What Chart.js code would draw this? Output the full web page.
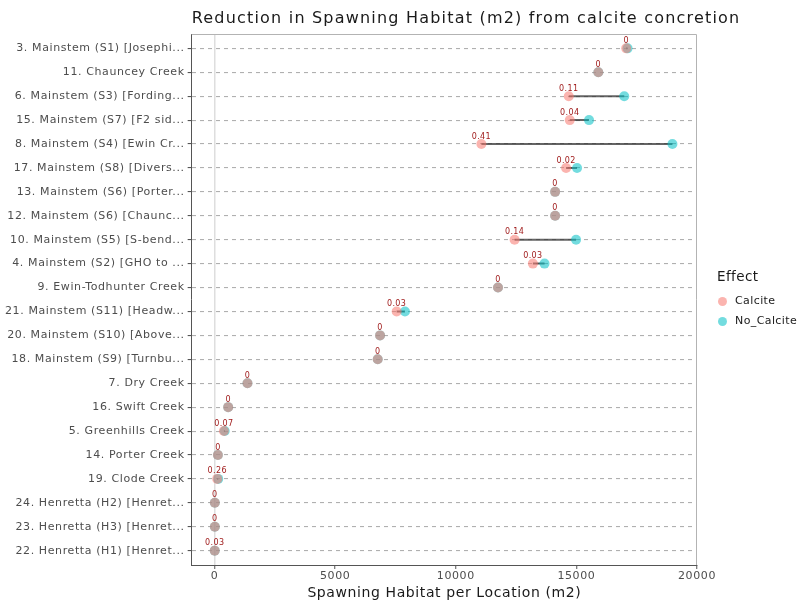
<!DOCTYPE html>
<html>
<head>
<meta charset="utf-8">
<script src="https://cdn.jsdelivr.net/npm/chart.js@4.4.0/dist/chart.umd.min.js"></script>
<style>
  html, body { margin: 0; padding: 0; background: #fff; }
</style>
</head>
<body>
<canvas id="dumbbellChart" width="805" height="602"></canvas>
<script>
// Sites, top to bottom
var sites = ["3. Mainstem (S1) [Josephi...", "11. Chauncey Creek", "6. Mainstem (S3) [Fording...",
  "15. Mainstem (S7) [F2 sid...", "8. Mainstem (S4) [Ewin Cr...", "17. Mainstem (S8) [Divers...",
  "13. Mainstem (S6) [Porter...", "12. Mainstem (S6) [Chaunc...", "10. Mainstem (S5) [S-bend...",
  "4. Mainstem (S2) [GHO to ...", "9. Ewin-Todhunter Creek", "21. Mainstem (S11) [Headw...",
  "20. Mainstem (S10) [Above...", "18. Mainstem (S9) [Turnbu...", "7. Dry Creek", "16. Swift Creek",
  "5. Greenhills Creek", "14. Porter Creek", "19. Clode Creek", "24. Henretta (H2) [Henret...",
  "23. Henretta (H3) [Henret...", "22. Henretta (H1) [Henret..."];

// Spawning habitat (m2) with and without calcite
var calcite = [17066, 15909, 14683, 14725, 11061, 14573, 14118, 14118, 12438, 13196, 11750,
  7548, 6860, 6763, 1364, 564, 386, 138, 110, 10, 10, 5];
var noCalcite = [17120, 15909, 16983, 15524, 18981, 15027, 14118, 14118, 14986, 13678, 11750,
  7893, 6860, 6763, 1364, 564, 420, 138, 150, 10, 10, 5];

// Reduction labels
var reduction = ["0", "0", "0.11", "0.04", "0.41", "0.02", "0", "0", "0.14", "0.03", "0",
  "0.03", "0", "0", "0", "0", "0.07", "0", "0.26", "0", "0", "0.03"];

var xTicks = [0, 5000, 10000, 15000, 20000];

Chart.defaults.font.family = "'DejaVu Sans', sans-serif";
Chart.defaults.color = "#4d4d4d";

var calcitePoints = calcite.map(function (v, i) { return { x: v, y: i }; });
var noCalcitePoints = noCalcite.map(function (v, i) { return { x: v, y: i }; });

// segments between the two points, broken by gaps
var segments = [];
for (var i = 0; i < sites.length; i++) {
  if (calcite[i] !== noCalcite[i]) {
    segments.push({ x: calcite[i], y: i }, { x: noCalcite[i], y: i }, { x: null, y: null });
  }
}

// ggplot text renders a bit wider than canvas text
var spacingPlugin = {
  id: "spacing",
  beforeUpdate: function (chart) { chart.ctx.letterSpacing = "0.6px"; },
  beforeDraw: function (chart) { chart.ctx.letterSpacing = "0.6px"; }
};

var labelPlugin = {
  id: "reductionLabels",
  afterDatasetsDraw: function (chart) {
    var ctx = chart.ctx;
    var meta = chart.getDatasetMeta(0);
    ctx.save();
    ctx.letterSpacing = "0.4px";
    ctx.font = "8px 'DejaVu Sans'";
    ctx.fillStyle = "#a01c1c";
    ctx.textAlign = "center";
    ctx.textBaseline = "bottom";
    meta.data.forEach(function (pt, i) {
      ctx.fillText(reduction[i], pt.x, pt.y - 3.5);
    });
    ctx.restore();
  }
};

var framePlugin = {
  id: "frame",
  afterDraw: function (chart) {
    var ctx = chart.ctx, a = chart.chartArea;
    ctx.save();
    ctx.strokeStyle = "#b3b3b3";
    ctx.lineWidth = 1;
    ctx.beginPath();
    ctx.moveTo(a.left, a.top + 0.5);
    ctx.lineTo(a.right - 0.5, a.top + 0.5);
    ctx.lineTo(a.right - 0.5, a.bottom);
    ctx.stroke();

    // title, aligned to the panel like ggplot
    ctx.letterSpacing = "1.2px";
    ctx.font = "16px 'DejaVu Sans'";
    ctx.fillStyle = "#1a1a1a";
    ctx.textAlign = "left";
    ctx.textBaseline = "middle";
    ctx.fillText("Reduction in Spawning Habitat (m2) from calcite concretion", a.left, 19);

    // legend
    var lx = a.right + 20, ly = (a.top + a.bottom) / 2 + 2;
    ctx.letterSpacing = "0.4px";
    ctx.font = "13.5px 'DejaVu Sans'";
    ctx.fillText("Effect", lx, ly - 24);
    ctx.font = "11px 'DejaVu Sans'";
    [0, 1].forEach(function (d, k) {
      var yy = ly + k * 20;
      ctx.fillStyle = chart.data.datasets[d].backgroundColor;
      ctx.beginPath();
      ctx.arc(lx + 5.5, yy, 4.5, 0, Math.PI * 2);
      ctx.fill();
      ctx.fillStyle = "#1a1a1a";
      ctx.fillText(chart.data.datasets[d].label, lx + 18, yy);
    });
    ctx.restore();
  }
};

var ctx = document.getElementById("dumbbellChart").getContext("2d");
var chart = new Chart(ctx, {
  type: "scatter",
  data: {
    datasets: [{
      label: "Calcite",
      data: calcitePoints,
      backgroundColor: "rgba(248,118,109,0.55)",
      borderWidth: 0,
      pointRadius: 5
    }, {
      label: "No_Calcite",
      data: noCalcitePoints,
      backgroundColor: "rgba(0,191,196,0.55)",
      borderWidth: 0,
      pointRadius: 5
    }, {
      label: "segment",
      data: segments,
      showLine: true,
      spanGaps: false,
      borderColor: "rgba(50,50,50,0.75)",
      borderWidth: 2,
      pointRadius: 0
    }]
  },
  options: {
    responsive: false,
    animation: false,
    events: [],
    layout: { padding: { top: 34, right: 108, bottom: 2, left: 2 } },
    plugins: {
      tooltip: { enabled: false },
      legend: { display: false }
    },
    scales: {
      x: {
        type: "linear",
        min: -950,
        max: 20000,
        afterBuildTicks: function (scale) {
          scale.ticks = xTicks.map(function (v) { return { value: v }; });
        },
        ticks: {
          font: { size: 11, lineHeight: 1 },
          color: "#4d4d4d",
          padding: 2,
          maxRotation: 0,
          callback: function (v) { return String(v); }
        },
        grid: {
          color: function (c) { return c.tick && c.tick.value === 0 ? "#dedede" : "rgba(0,0,0,0)"; },
          lineWidth: 1.5,
          tickColor: "#555",
          tickLength: 4,
          tickWidth: 1
        },
        border: { color: "#555", width: 1 },
        title: {
          display: true,
          text: "Spawning Habitat per Location (m2)",
          color: "#1a1a1a",
          font: { size: 14, lineHeight: 1 },
          padding: { top: 2, bottom: 0 }
        }
      },
      y: {
        type: "linear",
        reverse: true,
        min: -0.6,
        max: 21.6,
        afterBuildTicks: function (scale) {
          scale.ticks = sites.map(function (s, i) { return { value: i }; });
        },
        ticks: {
          autoSkip: false,
          font: { size: 11 },
          color: "#4d4d4d",
          padding: 3,
          callback: function (v) { return sites[v]; }
        },
        grid: {
          color: "#b0b0b0",
          lineWidth: 1.1,
          tickColor: "#555",
          tickLength: 4
        },
        border: { color: "#555", width: 1, dash: [4, 4] }
      }
    }
  },
  plugins: [spacingPlugin, labelPlugin, framePlugin]
});
</script>
</body>
</html>
